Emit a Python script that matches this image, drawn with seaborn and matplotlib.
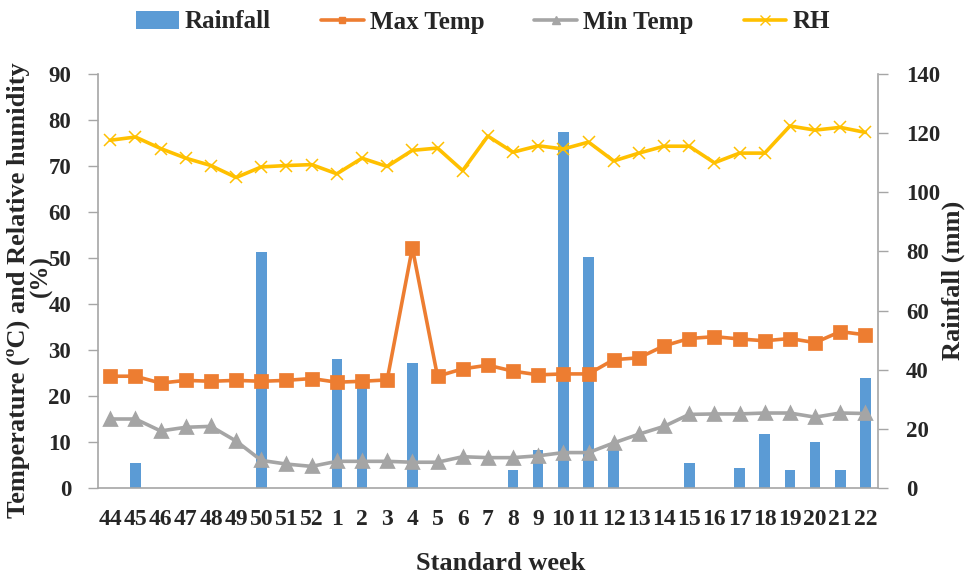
import matplotlib
matplotlib.use("Agg")
import matplotlib.pyplot as plt
import seaborn as sns
import pandas as pd
from matplotlib.patches import Patch
from matplotlib.lines import Line2D
from matplotlib.ticker import FixedLocator, MultipleLocator

weeks = ['44', '45', '46', '47', '48', '49', '50', '51', '52',
         '1', '2', '3', '4', '5', '6', '7', '8', '9', '10', '11',
         '12', '13', '14', '15', '16', '17', '18', '19', '20', '21', '22']
rainfall = [0, 8.6, 0, 0, 0, 0, 79.7, 0, 0,
            43.6, 36.0, 0, 42.3, 0, 0, 0, 6.2, 12.8, 120.5, 78.0,
            13.9, 0, 0, 8.3, 0, 6.6, 18.4, 6.2, 15.4, 6.2, 37.1]
max_temp = [24.3, 24.3, 22.8, 23.4, 23.2, 23.4, 23.2, 23.4, 23.8,
            23.0, 23.2, 23.5, 52.2, 24.3, 25.9, 26.7, 25.4, 24.6, 24.8, 24.8,
            27.9, 28.3, 30.9, 32.5, 32.9, 32.4, 32.0, 32.5, 31.6, 34.0, 33.3]
min_temp = [15.0, 15.0, 12.4, 13.2, 13.4, 10.2, 6.0, 5.2, 4.7,
            5.8, 5.8, 5.8, 5.6, 5.6, 6.8, 6.6, 6.6, 7.0, 7.7, 7.7,
            9.8, 11.7, 13.4, 16.0, 16.1, 16.1, 16.3, 16.3, 15.4, 16.3, 16.2]
rh = [75.6, 76.3, 73.8, 71.7, 70.1, 67.5, 69.8, 70.1, 70.3,
      68.3, 71.7, 69.9, 73.4, 73.9, 69.0, 76.5, 73.0, 74.4, 73.7, 75.2,
      71.1, 72.8, 74.3, 74.3, 70.7, 72.8, 72.8, 78.7, 77.8, 78.4, 77.3]

df = pd.DataFrame({'week': weeks, 'Rainfall': rainfall, 'Max Temp': max_temp,
                   'Min Temp': min_temp, 'RH': rh})

C_RAIN = '#5B9BD5'
C_MAX = '#ED7D31'
C_MIN = '#A5A5A5'
C_RH = '#FFC000'
GRAY = '#A6A6A6'

sns.set_style('white')
plt.rcParams['font.family'] = ['Liberation Serif', 'DejaVu Serif']

fig = plt.figure(figsize=(9.65, 5.77), dpi=100)
ax = fig.add_axes([97.7 / 965, 1 - 488 / 577, (878 - 97.7) / 965, (488 - 74) / 577])
ax2 = ax.twinx()

sns.barplot(data=df, x='week', y='Rainfall', order=weeks, color=C_RAIN,
            saturation=1, width=0.42, ax=ax2, linewidth=0)

sns.pointplot(data=df, x='week', y='RH', order=weeks, color=C_RH, markers='x',
              errorbar=None, ax=ax, markersize=9, linewidth=2.6,
              markeredgewidth=1.1)
sns.pointplot(data=df, x='week', y='Max Temp', order=weeks, color=C_MAX, markers='s',
              errorbar=None, ax=ax, markersize=8, linewidth=2.6)
sns.pointplot(data=df, x='week', y='Min Temp', order=weeks, color=C_MIN, markers='^',
              errorbar=None, ax=ax, markersize=8.5, linewidth=2.6)

ax.set_zorder(ax2.get_zorder() + 1)
ax.patch.set_visible(False)

ax.set_xlim(-0.5, len(weeks) - 0.5)
ax.set_ylim(0, 90)
ax2.set_ylim(0, 140)
ax.yaxis.set_major_locator(MultipleLocator(10))
ax2.yaxis.set_major_locator(MultipleLocator(20))

ax.set_xticks(range(len(weeks)))
ax.set_xticklabels(weeks)
ax.xaxis.set_minor_locator(FixedLocator([i - 0.5 for i in range(len(weeks) + 1)]))
ax.tick_params(axis='x', which='major', length=0, pad=15, labelsize=17)
ax.tick_params(axis='x', which='minor', length=7, width=1, color=GRAY, direction='out')
ax.tick_params(axis='y', length=7, width=1, color=GRAY, direction='out', pad=12, labelsize=16.5, left=True)
ax2.tick_params(axis='y', length=7, width=1, color=GRAY, direction='out', pad=13, labelsize=16.5, right=True)
for lab in ax.get_xticklabels() + ax.get_yticklabels() + ax2.get_yticklabels():
    lab.set_fontweight('bold')

for a in (ax, ax2):
    a.set_xlabel('')
    a.set_ylabel('')
    a.grid(False)
    a.spines['top'].set_visible(False)
    for s in ('left', 'right', 'bottom'):
        a.spines[s].set_color(GRAY)
        a.spines[s].set_linewidth(1.2)
ax.spines['right'].set_visible(False)
ax2.spines['left'].set_visible(False)
ax2.spines['bottom'].set_visible(False)

fig.text(18 / 965, 1 - 290 / 577, 'Temperature (ºC) and Relative humidity',
         rotation=90, ha='center', va='center', fontsize=19, fontweight='bold')
fig.text(41 / 965, 1 - 276 / 577, '(%)',
         rotation=90, ha='center', va='center', fontsize=18, fontweight='bold')
fig.text(953 / 965, 1 - 280 / 577, 'Rainfall (mm)', rotation=90, ha='center',
         va='center', fontsize=19, fontweight='bold')
fig.text(501 / 965, 1 - 563 / 577, 'Standard week', ha='center', va='center',
         fontsize=19, fontweight='bold')

handles = [
    Patch(facecolor=C_RAIN, edgecolor='none'),
    Line2D([], [], color=C_MAX, lw=2.6, marker='s', markersize=5),
    Line2D([], [], color=C_MIN, lw=2.6, marker='^', markersize=6),
    Line2D([], [], color=C_RH, lw=2.6, marker='x', markersize=7, markeredgewidth=1),
]
fig.legend(handles, ['Rainfall', 'Max Temp', 'Min Temp', 'RH'], ncol=4,
           loc='center', bbox_to_anchor=(483 / 965, 1 - 22 / 577), frameon=False,
           prop={'size': 18, 'weight': 'bold'}, handlelength=1.7,
           handleheight=0.7, handletextpad=0.25, columnspacing=2.0)

fig.savefig('out.png', dpi=100)
